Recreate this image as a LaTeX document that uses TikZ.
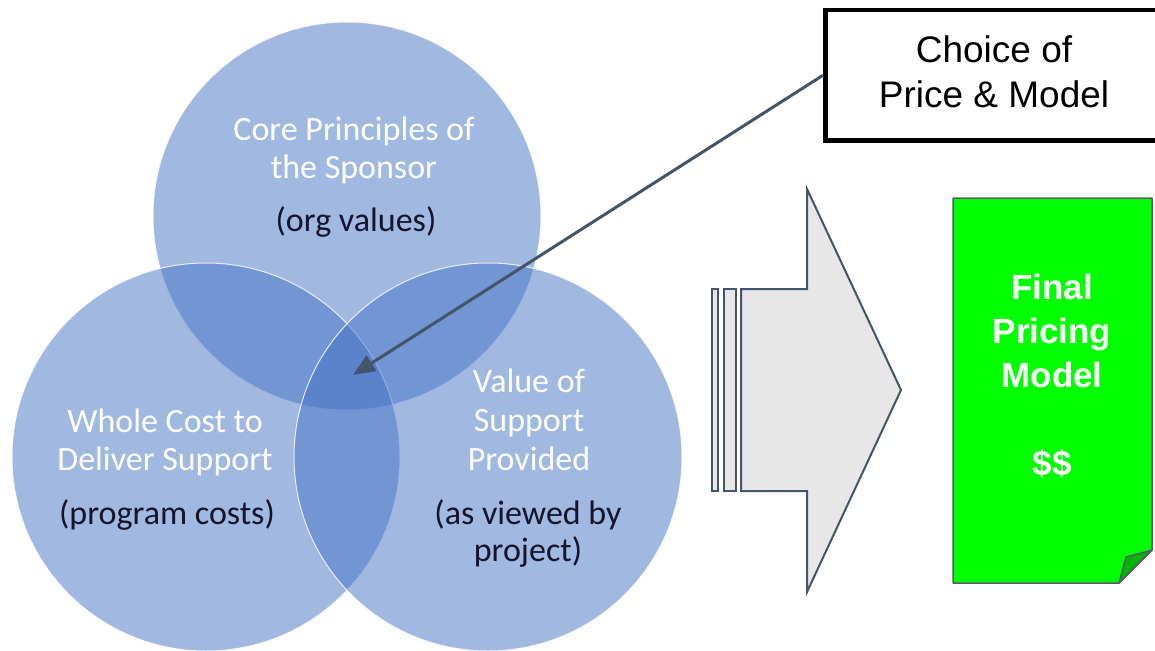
\documentclass[tikz,border=0pt]{standalone}
\usepackage{fontspec}
\setmainfont{Carlito}
\newfontfamily\arialfont{Liberation Sans}
\usetikzlibrary{arrows.meta}
\definecolor{vennblue}{RGB}{68,114,196}
\definecolor{slate}{RGB}{68,84,106}
\definecolor{arrowgray}{RGB}{231,231,231}
\definecolor{docgreen}{RGB}{0,255,0}
\definecolor{flapgreen}{RGB}{0,180,0}
\definecolor{darktext}{RGB}{20,20,45}
\definecolor{docedge}{RGB}{90,90,110}
\begin{document}
\begin{tikzpicture}[x=1pt,y=-1pt,
  venn/.style={circle, minimum size=388pt, inner sep=0pt, fill=vennblue, fill opacity=0.5, draw=white, draw opacity=0.8, line width=1pt},
  whitetxt/.style={anchor=base, inner sep=0pt, text=white, font=\fontsize{34}{38}\selectfont},
  darktxt/.style={anchor=base, inner sep=0pt, text=darktext, font=\fontsize{34}{38}\selectfont},
  choicebox/.style={draw=black, line width=4.5pt, fill=white, minimum width=350pt, minimum height=130pt, anchor=north west, inner sep=0pt},
  choicetxt/.style={anchor=base, inner sep=0pt, font=\arialfont\fontsize{37}{44}\selectfont},
  doctxt/.style={anchor=base, inner sep=0pt, text=white, font=\arialfont\bfseries\fontsize{35}{44}\selectfont},
  conn/.style={draw=slate, line width=3pt, -{Triangle[length=22pt,width=18pt]}},
  bigarrow/.style={draw=slate, line width=2pt, fill=arrowgray, line join=miter},
  docshape/.style={draw=docedge, line width=1.5pt, fill=docgreen, line join=round},
  flap/.style={draw=docedge, line width=1.5pt, fill=flapgreen, line join=round}
]
\useasboundingbox (0,0) rectangle (1155,650);
\clip (0,0) rectangle (1155,650);

% Venn circles
\node[venn] (topc) at (347,216) {};
\node[venn] (leftc) at (206,457) {};
\node[venn] (rightc) at (488,457) {};

% Circle texts
\node[whitetxt] (t1) at (354,140) {Core Principles of};
\node[whitetxt] (t2) at (354,178) {the Sponsor};
\node[darktxt]  (t3) at (356,231) {(org values)};

\node[whitetxt] (l1) at (165,432) {Whole Cost to};
\node[whitetxt] (l2) at (165,470) {Deliver Support};
\node[darktxt]  (l3) at (167,524) {(program costs)};

\node[whitetxt] (r1) at (529,392) {Value of};
\node[whitetxt] (r2) at (529,431) {Support};
\node[whitetxt] (r3) at (529,470) {Provided};
\node[darktxt]  (r4) at (528,524) {(as viewed by};
\node[darktxt]  (r5) at (528,561) {project)};

% Big arrow
\draw[bigarrow] (712,289) rectangle (718,491);
\draw[bigarrow] (723.5,289) rectangle (736,491);
\draw[bigarrow] (741,289) -- (807,289) -- (807,189) -- (901,390) -- (807,592) -- (807,491) -- (741,491) -- cycle;

% Green document
\draw[docshape] (953,198) -- (1152,198) -- (1152,550) -- (1119,583) -- (953,583) -- cycle;
\draw[flap] (1119,583) -- (1126,557) -- (1152,550) -- cycle;
\node[doctxt] (d1) at (1052,299) {Final};
\node[doctxt] (d2) at (1052,343) {Pricing};
\node[doctxt] (d3) at (1052,387) {Model};
\node[doctxt] (d4) at (1052,475) {\$\$};

% Choice box
\node[choicebox] (choice) at (823,8) {};
\node[choicetxt] (c1) at (994,63) {Choice of};
\node[choicetxt] (c2) at (994,108) {Price \& Model};

% Connector
\coordinate (tipc) at (353,375);
\draw[conn] (choice.west) -- (tipc);
\end{tikzpicture}
\end{document}
